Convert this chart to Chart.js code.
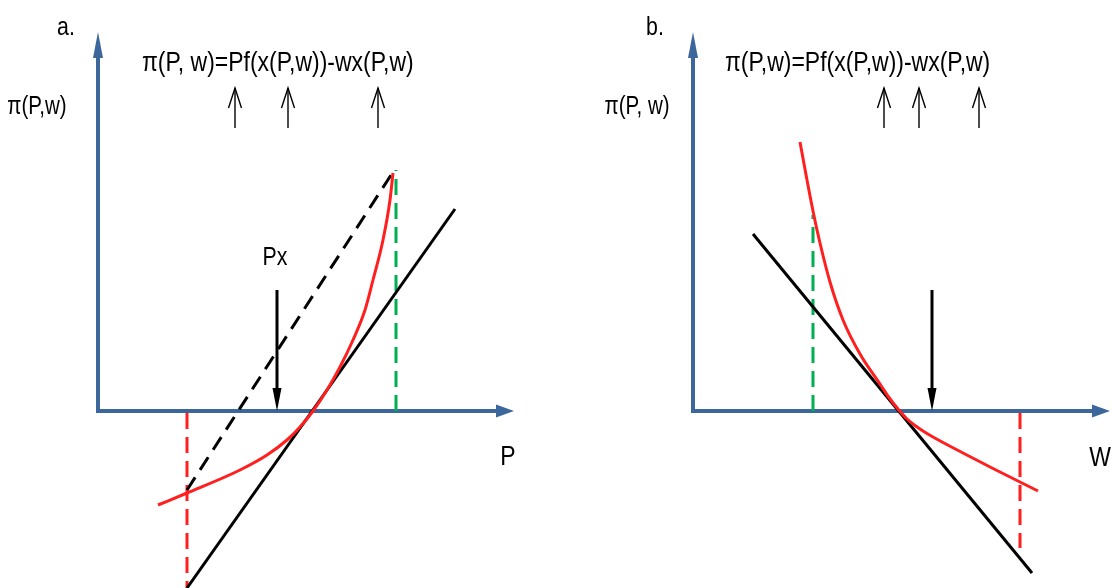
<!DOCTYPE html>
<html>
<head>
<meta charset="utf-8">
<title>Profit function</title>
<script src="https://cdn.jsdelivr.net/npm/chart.js@4.4.1/dist/chart.umd.min.js"></script>
<style>
	html, body { margin: 0; padding: 0; background: #fff; }
	#wrap { width: 1112px; height: 588px; display: flex; }
	canvas { display: block; }
</style>
</head>
<body>
<div id="wrap">
	<canvas id="panelA" width="556" height="588"></canvas>
	<canvas id="panelB" width="556" height="588"></canvas>
</div>
<script>
// panel a: profit as a function of P (units: x right of origin, y above origin)
const aAxisX = [[0, 0], [41.6, 0]];
const aAxisY = [[0, -0.2], [0, 37.9]];
const aProfit = [[6.0, -9.4], [8.9, -8.2], [14.2, -5.9], [16.9, -4.4], [18.9, -2.9], [20.2, -1.6], [21.5, 0], [22.9, 2.1], [24.2, 4.4], [25.5, 7.1], [26.7, 10.1], [27.5, 13.1], [28.5, 17.1], [29.2, 21.1], [29.5, 23.8]];
const aTangent = [[8.9, -17.7], [35.7, 20.2]];
const aChord = [[8.9, -7.9], [29.5, 23.9]];
const aLowPrice = [[8.9, -0.2], [8.9, -17.7]];
const aHighPrice = [[29.8, 0], [29.8, 24.1]];
const aPx = [[17.9, 12.1], [17.9, 0]];
const aMarks = [13.7, 19.0, 28.0];

// panel b: profit as a function of w
const bAxisX = [[0, 0], [41.7, 0]];
const bAxisY = [[0, -0.2], [0, 37.9]];
const bProfit = [[10.7, 26.9], [11.4, 23.1], [12.0, 20.0], [12.7, 16.8], [13.7, 12.9], [15.0, 9.1], [16.7, 5.7], [18.7, 2.7], [19.6, 1.35], [20.5, 0.2], [21.3, -0.7], [22.2, -1.45], [23.0, -2.0], [24.0, -2.6], [27.0, -4.2], [30.0, -5.75], [34.5, -8.0]];
const bTangent = [[6.0, 17.7], [33.9, -16.2]];
const bLowWage = [[12.0, 0], [12.0, 19.6]];
const bHighWage = [[32.7, -0.2], [32.7, -13.7]];
const bArrow = [[23.9, 12.1], [23.9, 0]];
const bMarks = [19.1, 22.6, 28.6];

const markSpan = [28.3, 32.3];

const aLabels = [
	{ text: 'a.', x: -3.2, y: 38.3, size: 26 },
	{ text: 'π(P,w)', x: -6.1, y: 30.4, size: 25 },
	{ text: 'π(P, w)=Pf(x(P,w))-wx(P,w)', x: 4.4, y: 34.8, size: 28, align: 'left' },
	{ text: 'Px', x: 17.7, y: 15.3, size: 26 },
	{ text: 'P', x: 41.0, y: -4.6, size: 28 }
];
const bLabels = [
	{ text: 'b.', x: -3.8, y: 38.3, size: 26 },
	{ text: 'π(P, w)', x: -5.6, y: 30.4, size: 25 },
	{ text: 'π(P,w)=Pf(x(P,w))-wx(P,w)', x: 3.2, y: 34.8, size: 28, align: 'left' },
	{ text: 'W', x: 40.7, y: -4.7, size: 28 }
];

const BLUE = '#3C679A';
const RED = '#FF1F1F';
const GREEN = '#00B050';
const BLACK = '#000000';

function pts(list) {
	return list.map(p => ({ x: p[0], y: p[1] }));
}

function line(list, color, width, extra) {
	return Object.assign({
		data: pts(list),
		showLine: true,
		borderColor: color,
		backgroundColor: color,
		borderWidth: width,
		pointRadius: 0,
		fill: false,
		borderCapStyle: 'butt'
	}, extra || {});
}

// arrow heads drawn at the last point of a dataset
function headGeometry(meta, head) {
	const p = meta.data;
	const tip = p[p.length - 1], prev = p[p.length - 2];
	const dx = tip.x - prev.x, dy = tip.y - prev.y;
	const d = Math.hypot(dx, dy);
	const ux = dx / d, uy = dy / d;
	const bx = tip.x - ux * head.len, by = tip.y - uy * head.len;
	return { tip, ux, uy, bx, by, nx: -uy, ny: ux };
}

const arrowPlugin = {
	id: 'arrows',
	beforeDatasetDraw(chart, args) {
		const ds = chart.data.datasets[args.index];
		if (!ds.head || !ds.head.filled) return;
		const g = headGeometry(args.meta, ds.head);
		const w = ds.borderWidth;
		const ctx = chart.ctx;
		ctx.save();
		ctx.beginPath();
		ctx.rect(0, 0, chart.width, chart.height);
		const sx = g.bx + g.ux, sy = g.by + g.uy;
		ctx.moveTo(sx + g.nx * w, sy + g.ny * w);
		ctx.lineTo(g.tip.x + g.ux * 3 + g.nx * w, g.tip.y + g.uy * 3 + g.ny * w);
		ctx.lineTo(g.tip.x + g.ux * 3 - g.nx * w, g.tip.y + g.uy * 3 - g.ny * w);
		ctx.lineTo(sx - g.nx * w, sy - g.ny * w);
		ctx.closePath();
		ctx.clip('evenodd');
	},
	afterDatasetDraw(chart, args) {
		const ds = chart.data.datasets[args.index];
		if (!ds.head) return;
		const ctx = chart.ctx;
		if (ds.head.filled) ctx.restore();
		const g = headGeometry(args.meta, ds.head);
		const h = ds.head.half;
		ctx.save();
		ctx.beginPath();
		ctx.moveTo(g.bx + g.nx * h, g.by + g.ny * h);
		ctx.lineTo(g.tip.x, g.tip.y);
		ctx.lineTo(g.bx - g.nx * h, g.by - g.ny * h);
		if (ds.head.filled) {
			ctx.closePath();
			ctx.fillStyle = ds.borderColor;
			ctx.fill();
		} else {
			ctx.strokeStyle = ds.borderColor;
			ctx.lineWidth = ds.borderWidth;
			ctx.stroke();
		}
		ctx.restore();
	},
	afterDraw(chart) {
		const labels = chart.options.plugins.arrows.labels || [];
		const ctx = chart.ctx;
		const xs = chart.scales.x, ys = chart.scales.y;
		labels.forEach(l => {
			ctx.save();
			ctx.translate(xs.getPixelForValue(l.x), ys.getPixelForValue(l.y));
			ctx.scale(0.82, 1);
			ctx.font = l.size + 'px "Liberation Sans", Arial, sans-serif';
			ctx.fillStyle = BLACK;
			ctx.textAlign = l.align || 'center';
			ctx.textBaseline = 'middle';
			ctx.fillText(l.text, 0, 0);
			ctx.restore();
		});
	}
};

function markArrows(xs) {
	return xs.map(x => line([[x, markSpan[0]], [x, markSpan[1]]], BLACK, 1.4, {
		head: { len: 20, half: 6.5, filled: false }
	}));
}

function makeChart(id, sets, labels, xMin, xMax) {
	return new Chart(document.getElementById(id), {
		type: 'scatter',
		data: { datasets: sets },
		options: {
			responsive: false,
			animation: false,
			events: [],
			layout: { padding: 0 },
			plugins: {
				legend: { display: false },
				tooltip: { enabled: false },
				arrows: { labels: labels }
			},
			scales: {
				x: { type: 'linear', min: xMin, max: xMax, display: false },
				y: { type: 'linear', min: -17.7, max: 41.1, display: false }
			}
		},
		plugins: [arrowPlugin]
	});
}

// first dataset ends up on top
const setsA = [].concat(
	markArrows(aMarks),
	[
		line(aPx, BLACK, 3, { head: { len: 23, half: 4.5, filled: true } }),
		line(aProfit, RED, 3, { cubicInterpolationMode: 'monotone' }),
		line(aTangent, BLACK, 3),
		line(aChord, BLACK, 3, { borderDash: [15, 9] }),
		line(aHighPrice, GREEN, 3, { borderDash: [16, 8] }),
		line(aLowPrice, RED, 3, { borderDash: [16, 8] }),
		line(aAxisX, BLUE, 4, { head: { len: 18, half: 6.5, filled: true } }),
		line(aAxisY, BLUE, 4, { head: { len: 26, half: 5, filled: true } })
	]
);

const setsB = [].concat(
	markArrows(bMarks),
	[
		line(bArrow, BLACK, 3, { head: { len: 23, half: 4.5, filled: true } }),
		line(bProfit, RED, 3, { cubicInterpolationMode: 'monotone' }),
		line(bTangent, BLACK, 3),
		line(bLowWage, GREEN, 3, { borderDash: [16, 8] }),
		line(bHighWage, RED, 3, { borderDash: [16, 8] }),
		line(bAxisX, BLUE, 4, { head: { len: 18, half: 6.5, filled: true } }),
		line(bAxisY, BLUE, 4, { head: { len: 26, half: 5, filled: true } })
	]
);

makeChart('panelA', setsA, aLabels, -9.8, 45.8);
makeChart('panelB', setsB, bLabels, -13.7, 41.9);
</script>
</body>
</html>
